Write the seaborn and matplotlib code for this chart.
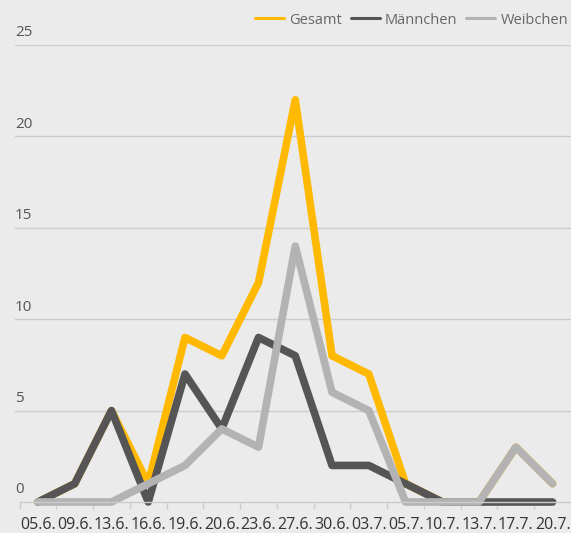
import pandas as pd
import seaborn as sns
import matplotlib.pyplot as plt

# Daten
datum = ['05.6.', '09.6.', '13.6.', '16.6.', '19.6.', '20.6.', '23.6.', '27.6.',
         '30.6.', '03.7.', '05.7.', '10.7.', '13.7.', '17.7.', '20.7.']
gesamt = [0, 1, 5, 1, 9, 8, 12, 22, 8, 7, 1, 0, 0, 3, 1]
maennchen = [0, 1, 5, 0, 7, 4, 9, 8, 2, 2, 1, 0, 0, 0, 0]
weibchen = [0, 0, 0, 1, 2, 4, 3, 14, 6, 5, 0, 0, 0, 3, 1]

serien = ['Gesamt', 'Männchen', 'Weibchen']
farben = {'Gesamt': '#ffb900', 'Männchen': '#555555', 'Weibchen': '#b3b3b3'}

df = pd.DataFrame({'Datum': datum * 3,
                   'pos': list(range(len(datum))) * 3,
                   'Wert': gesamt + maennchen + weibchen,
                   'Serie': sum([[s] * len(datum) for s in serien], [])})

sns.set_theme(style='white')
plt.rcParams['font.family'] = ['Open Sans', 'DejaVu Sans']

fig = plt.figure(figsize=(5.71, 5.33), dpi=100)
fig.patch.set_facecolor('#ebebeb')
# Achse: links 15px, rechts 571px, unten y=502, oben y=45
ax = fig.add_axes([15 / 571, 31 / 533, 556 / 571, 457 / 533])
ax.set_facecolor('#ebebeb')

sns.lineplot(data=df, x='pos', y='Wert', hue='Serie', hue_order=serien,
             palette=farben, linewidth=5.5, ax=ax, legend=False,
             solid_capstyle='round', solid_joinstyle='round', clip_on=False)

ax.set_xlim(-0.624, 14.46)
ax.set_ylim(0, 25)

# Gitternetz
for v in [5, 10, 15, 20, 25]:
    ax.axhline(v, color='#cccccc', linewidth=1, zorder=0)
    ax.text(0, v + 0.25, str(v), transform=ax.get_yaxis_transform(),
            ha='left', va='bottom', fontsize=11, color='#555555')
ax.text(0, 0.25, '0', transform=ax.get_yaxis_transform(),
        ha='left', va='bottom', fontsize=11, color='#555555')

ax.set_yticks([])
ax.set_xticks([i - 0.5 for i in range(len(datum) + 1)])
ax.set_xticklabels([])
ax.set_xticks(range(len(datum)), minor=True)
ax.set_xticklabels(datum, minor=True, fontsize=11.5, color='#333333')
ax.tick_params(axis='x', which='major', length=5, color='#cccccc', width=1,
               direction='out', bottom=True)
ax.tick_params(axis='x', which='minor', length=0, pad=11)
ax.set_xlabel('')
ax.set_ylabel('')
for s in ['top', 'right', 'left']:
    ax.spines[s].set_visible(False)
ax.spines['bottom'].set_color('#cccccc')
ax.spines['bottom'].set_linewidth(1)
ax.spines['bottom'].set_bounds(-0.5, 14.46)

# Legende
handles = [plt.Line2D([], [], color=farben[s], linewidth=2.2) for s in serien]
fig.legend(handles, serien, loc='center right', bbox_to_anchor=(1.018, 1 - 20 / 533),
           ncol=3, frameon=False, fontsize=10.5, handlelength=2.0,
           handletextpad=0.35, columnspacing=0.6, labelcolor='#666666')

fig.savefig('out.png', dpi=100, facecolor=fig.get_facecolor())
